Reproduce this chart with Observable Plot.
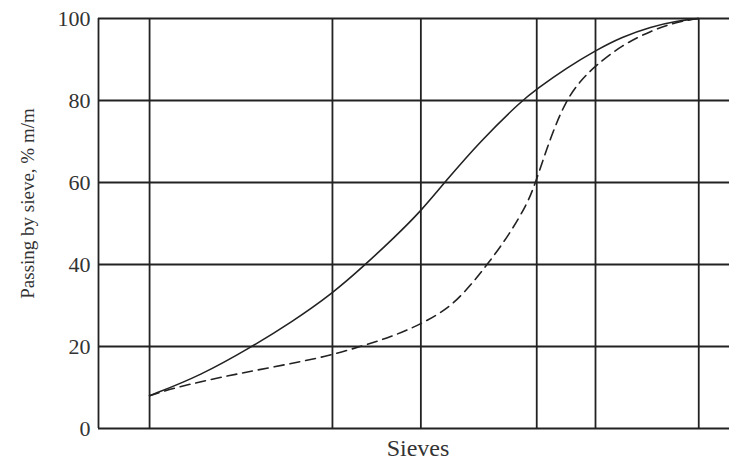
<!DOCTYPE html>
<html>
<head>
<meta charset="utf-8">
<script src="https://cdn.jsdelivr.net/npm/d3@7"></script>
<script src="https://cdn.jsdelivr.net/npm/@observablehq/plot@0.6"></script>
<style>
  html, body { margin: 0; padding: 0; background: #fff; }
</style>
</head>
<body>
<div id="chart"></div>
<script>
// Sieve positions on a relative (logarithmic) sieve axis: first sieve = 0, last sieve = 100
const sievePositions = [0, 33.3, 49.4, 70.5, 81.2, 100];
const xDomain = [-9.3, 105.6];
const yTicks = [0, 20, 40, 60, 80, 100];

// Solid grading curve
const solidX = [0, 9.3, 18.7, 25.7, 33.3, 39.3, 44.5, 49.4, 53.7, 60.3, 67.8, 70.5, 76, 81.2, 86, 91.3, 96, 100];
const solidY = [8.0, 12.9, 20, 25.8, 32.9, 40, 46.5, 53.0, 60, 70.2, 80, 82.8, 88, 92.2, 95.5, 98, 99.4, 100];

// Dashed grading curve
const dashedX = [0, 4.4, 13.5, 22.6, 32.4, 38.4, 43.9, 49.4, 54.8, 58.5, 61.5, 65.2, 68.8, 70.3, 73.0, 75.8, 78.5, 81.2, 86, 91.3, 96, 100];
const dashedY = [8.0, 9.9, 12.7, 15.0, 17.6, 20, 22.3, 25.4, 29.6, 35, 40, 46.7, 54.8, 60, 71, 80, 84.9, 88.5, 93.5, 97, 99.2, 100];

const solid = solidX.map((x, i) => ({x, y: solidY[i]}));
const dashed = dashedX.map((x, i) => ({x, y: dashedY[i]}));

const ink = "#222";
const textInk = "#333";
const serif = "'Liberation Serif', 'DejaVu Serif', serif";

const chart = Plot.plot({
  width: 729,
  height: 468,
  marginLeft: 98,
  marginRight: 0,
  marginTop: 18,
  marginBottom: 40,
  style: {fontFamily: serif, background: "#fff"},
  x: {domain: xDomain, axis: null},
  y: {domain: [0, 100], ticks: yTicks},
  marks: [
    Plot.ruleY(yTicks, {stroke: ink, strokeWidth: 1.8}),
    Plot.ruleX(sievePositions, {stroke: ink, strokeWidth: 1.8}),
    Plot.ruleX([xDomain[0]], {stroke: ink, strokeWidth: 1.8}),
    Plot.axisY({ticks: yTicks, tickSize: 0, tickPadding: 8, label: null, fontSize: 22, fill: textInk}),
    Plot.line(solid, {x: "x", y: "y", curve: "basis", stroke: ink, strokeWidth: 1.6}),
    Plot.line(dashed, {x: "x", y: "y", curve: "basis", stroke: ink, strokeWidth: 1.6, strokeDasharray: "10,6"}),
    Plot.text(["Sieves"], {frameAnchor: "bottom", dx: 4, dy: 27, fontSize: 24, fill: textInk}),
    Plot.text(["Passing by sieve, % m/m"], {frameAnchor: "left", textAnchor: "middle", rotate: -90, dx: -71, dy: -20, fontSize: 19, fill: textInk})
  ]
});
document.getElementById("chart").appendChild(chart);
</script>
</body>
</html>
